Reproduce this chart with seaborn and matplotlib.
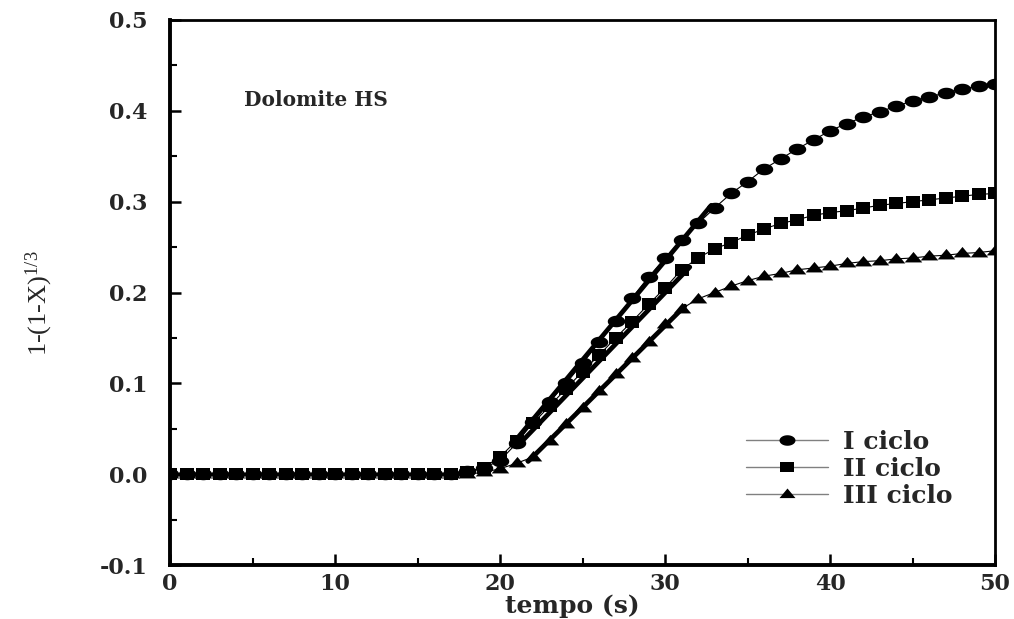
import numpy as np
import pandas as pd
import matplotlib
matplotlib.use("Agg")
import matplotlib.pyplot as plt
from matplotlib.lines import Line2D
from matplotlib.ticker import MultipleLocator, FormatStrFormatter
import seaborn as sns

# ---- data ----
tempo = list(range(0, 51))
ciclo_I = [0]*18 + [0.003, 0.007, 0.015, 0.034, 0.057, 0.080, 0.100, 0.122, 0.145,
                    0.169, 0.194, 0.217, 0.238, 0.258, 0.276, 0.293, 0.309, 0.322,
                    0.336, 0.347, 0.358, 0.368, 0.378, 0.386, 0.393, 0.399, 0.405,
                    0.411, 0.415, 0.420, 0.424, 0.427, 0.430]
ciclo_II = [0]*18 + [0.002, 0.007, 0.019, 0.037, 0.056, 0.075, 0.094, 0.113, 0.131,
                     0.150, 0.168, 0.187, 0.205, 0.225, 0.238, 0.248, 0.255, 0.263,
                     0.270, 0.276, 0.280, 0.285, 0.288, 0.290, 0.293, 0.296, 0.298,
                     0.300, 0.302, 0.304, 0.306, 0.308, 0.309]
ciclo_III = [0]*19 + [0.002, 0.006, 0.012, 0.019, 0.037, 0.055, 0.073, 0.092, 0.110,
                      0.128, 0.146, 0.165, 0.182, 0.193, 0.200, 0.207, 0.213, 0.218,
                      0.221, 0.225, 0.227, 0.229, 0.232, 0.234, 0.235, 0.237, 0.238,
                      0.240, 0.241, 0.243, 0.244, 0.246]
# linear fits (start/end points)
fit_I_t = [20.7, 32.8]
fit_I_v = [0.032, 0.296]
fit_II_t = [21.0, 31.5]
fit_II_v = [0.030, 0.228]
fit_III_t = [21.7, 31.2]
fit_III_v = [0.014, 0.185]
labels = ["I ciclo", "II ciclo", "III ciclo"]

sns.set_style("ticks")
plt.rcParams['font.family'] = ['DejaVu Serif']
plt.rcParams['axes.unicode_minus'] = False
plt.rcParams['mathtext.fontset'] = 'custom'
plt.rcParams['mathtext.rm'] = 'Liberation Serif'
plt.rcParams['mathtext.it'] = 'Liberation Serif:italic'

fig = plt.figure(figsize=(10.14, 6.19), dpi=100)
ax = fig.add_axes([0.1677, 0.0872, 0.8136, 0.8805])

# flattened markers (reference is stretched horizontally)
th = np.linspace(0, 2*np.pi, 40)
m_circle = np.column_stack([np.cos(th), 0.66*np.sin(th)])
m_square = [(-1, -0.78), (1, -0.78), (1, 0.78), (-1, 0.78), (-1, -0.78)]
m_tri = [(-1, -0.45), (1, -0.45), (0, 0.75), (-1, -0.45)]

series = [(ciclo_I, m_circle, 12.6), (ciclo_II, m_square, 10.2), (ciclo_III, m_tri, 12.6)]
for vals, m, ms in series:
    sns.lineplot(x=tempo, y=vals, ax=ax, color='black', linewidth=0.8,
                 marker=m, markersize=ms, markeredgewidth=0, markerfacecolor='black')

for ft, fv in [(fit_I_t, fit_I_v), (fit_II_t, fit_II_v), (fit_III_t, fit_III_v)]:
    sns.lineplot(x=ft, y=fv, ax=ax, color='black', linewidth=3.4)

ax.set_xlim(0, 50)
ax.set_ylim(-0.1, 0.5)
ax.xaxis.set_major_locator(MultipleLocator(10))
ax.xaxis.set_minor_locator(MultipleLocator(5))
ax.yaxis.set_major_locator(MultipleLocator(0.1))
ax.yaxis.set_minor_locator(MultipleLocator(0.05))
ax.yaxis.set_major_formatter(FormatStrFormatter('%.1f'))
ax.tick_params(which='both', direction='in', top=False, right=False, color='black')
ax.tick_params(which='major', length=8, width=1.8, labelsize=16)
ax.tick_params(axis='y', which='major', pad=16)
ax.tick_params(axis='x', which='major', pad=6)
ax.tick_params(which='minor', length=5, width=1.5)
for lab in ax.get_xticklabels() + ax.get_yticklabels():
    lab.set_fontweight('bold')
for s in ['left', 'bottom']:
    ax.spines[s].set_linewidth(2.8)
for s in ['top', 'right']:
    ax.spines[s].set_linewidth(2.0)
for s in ax.spines.values():
    s.set_color('black')

ax.set_xlabel("tempo (s)", fontsize=18, fontweight='bold')
ax.xaxis.set_label_coords(0.487, -0.053)
ax.set_ylabel(r"1-(1-X)$^{\mathrm{1/3}}$", fontsize=19, family='Liberation Serif')
ax.yaxis.set_label_coords(-0.139, 0.48)

ax.text(4.5, 0.405, "Dolomite HS", fontsize=14.5, fontweight='bold')

handles = [
    Line2D([], [], color='gray', lw=1, marker=m_circle, markersize=11.5, markerfacecolor='black', markeredgewidth=0),
    Line2D([], [], color='gray', lw=1, marker=m_square, markersize=9.5, markerfacecolor='black', markeredgewidth=0),
    Line2D([], [], color='gray', lw=1, marker=m_tri, markersize=11.5, markerfacecolor='black', markeredgewidth=0),
]
leg = ax.legend(handles, labels, loc='lower right', bbox_to_anchor=(0.97, 0.073),
                frameon=False, prop={'family': 'DejaVu Serif', 'weight': 'bold', 'size': 18},
                handlelength=3.3, handletextpad=0.6, labelspacing=0.12,
                borderaxespad=0.3)

fig.savefig("out.png", dpi=100)
